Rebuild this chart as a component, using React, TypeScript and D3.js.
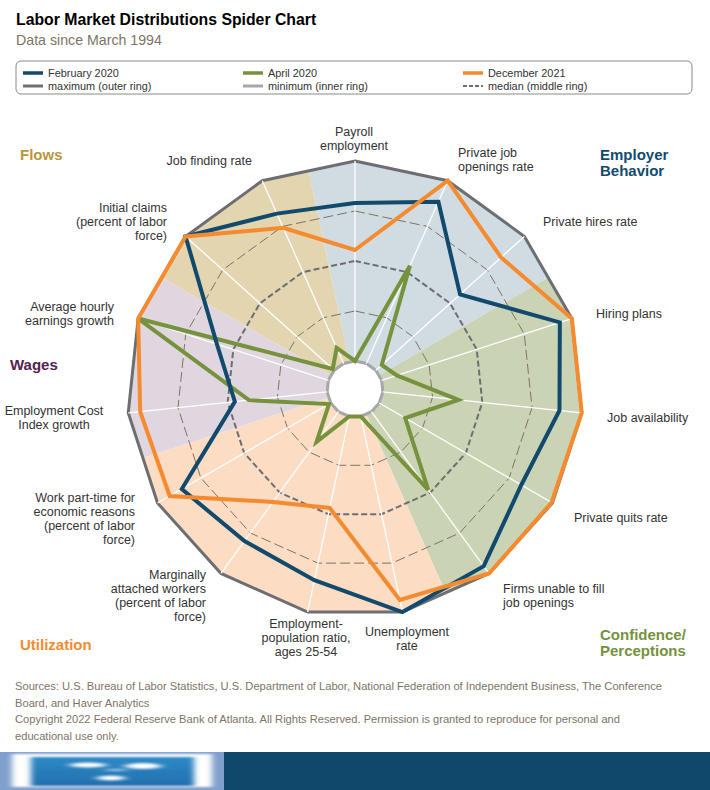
import React from 'react';
import * as d3 from 'd3';

const indicators = [
  ['Payroll', 'employment'],
  ['Private job', 'openings rate'],
  ['Private hires rate'],
  ['Hiring plans'],
  ['Job availability'],
  ['Private quits rate'],
  ['Firms unable to fill', 'job openings'],
  ['Unemployment', 'rate'],
  ['Employment-', 'population ratio,', 'ages 25-54'],
  ['Marginally', 'attached workers', '(percent of labor', 'force)'],
  ['Work part-time for', 'economic reasons', '(percent of labor', 'force)'],
  ['Employment Cost', 'Index growth'],
  ['Average hourly', 'earnings growth'],
  ['Initial claims', '(percent of labor', 'force)'],
  ['Job finding rate'],
];

// percentile position of each indicator, same order as above
const feb2020 = [0.79, 0.885, 0.567, 0.937, 0.888, 0.82, 0.955, 1, 0.837, 0.8, 0.86, 0.464, 0.586, 1, 0.82];
const apr2020 = [0, 0.535, 0.04, 0.08, 0.38, 0.15, 0.483, 0, 0, 0.187, 0.01, 0.393, 1, 0.01, 0.085];
const dec2021 = [0.555, 1, 0.843, 1, 1, 0.995, 1, 0.938, 0.468, 0.558, 0.93, 0.94, 1, 1, 0.742];

const ringLevels = [0.25, 0.5, 0.75];

const sectors = [
  { name: ['Employer', 'Behavior'], first: 0, last: 2, fill: '#d0dbe2', color: '#124a6e', x: 600, y: 160 },
  { name: ['Confidence/', 'Perceptions'], first: 3, last: 6, fill: '#cbd3b5', color: '#76923c', x: 600, y: 640 },
  { name: ['Utilization'], first: 7, last: 10, fill: '#fcdcc3', color: '#f58a2f', x: 20, y: 650 },
  { name: ['Wages'], first: 11, last: 12, fill: '#e0d6e0', color: '#56224f', x: 10, y: 370 },
  { name: ['Flows'], first: 13, last: 14, fill: '#e2d5b0', color: '#b9973c', x: 20, y: 160 },
];

// where each indicator label sits: [x, first baseline, anchor]
const labelPlace: [number, number, string][] = [
  [354, 136, 'middle'],
  [458, 157, 'start'],
  [543, 226, 'start'],
  [596, 318, 'start'],
  [607, 422, 'start'],
  [574, 522, 'start'],
  [503, 593, 'start'],
  [407, 636, 'middle'],
  [306, 628, 'middle'],
  [206, 579, 'end'],
  [135, 502, 'end'],
  [54, 415, 'middle'],
  [114, 311, 'end'],
  [167, 212, 'end'],
  [252, 165, 'end'],
];

const legendRows = [
  [
    { label: 'February 2020', color: '#124a6e', width: 3.5, dash: '' },
    { label: 'April 2020', color: '#76923c', width: 3.5, dash: '' },
    { label: 'December 2021', color: '#f58a2f', width: 3.5, dash: '' },
  ],
  [
    { label: 'maximum (outer ring)', color: '#6d6e71', width: 3, dash: '' },
    { label: 'minimum (inner ring)', color: '#a7a7a9', width: 3, dash: '' },
    { label: 'median (middle ring)', color: '#6d6e71', width: 2, dash: '4,2' },
  ],
];

const footnotes = [
  'Sources: U.S. Bureau of Labor Statistics, U.S. Department of Labor, National Federation of Independent Business, The Conference',
  'Board, and Haver Analytics',
  'Copyright 2022 Federal Reserve Bank of Atlanta. All Rights Reserved. Permission is granted to reproduce for personal and',
  'educational use only.',
];

const width = 710;
const height = 790;
const cx = 355;
const cy = 389;
const step = (2 * Math.PI) / indicators.length;
const font = '"Liberation Sans", Arial, sans-serif';

const r = d3.scaleLinear().domain([0, 1]).range([28, 228]);
const angle = (i: number) => i * step;

const radial = d3
  .lineRadial<number>()
  .angle((_, i) => angle(i))
  .radius((d) => r(d))
  .curve(d3.curveLinearClosed);

const ring = (level: number) => radial(indicators.map(() => level)) as string;

const wedge = d3.arc();

export default function App() {
  return (
    <svg
      width={width}
      height={height}
      style={{ position: 'absolute', left: 0, top: 0, fontFamily: font }}
    >
      <defs>
        <clipPath id="outer-ring">
          <path d={ring(1)} />
        </clipPath>
        <filter id="soft" x="-20%" y="-30%" width="140%" height="160%">
          <feGaussianBlur stdDeviation="3 1" />
        </filter>
        <filter id="softer" x="-30%" y="-100%" width="160%" height="300%">
          <feGaussianBlur stdDeviation="5 1.2" />
        </filter>
        <linearGradient id="button" x1="0" x2="0" y1="0" y2="1">
          <stop offset="0" stopColor="#2d8ac6" />
          <stop offset="1" stopColor="#236fae" />
        </linearGradient>
      </defs>

      <text x={16} y={25} fontSize={15.8} fontWeight="bold" fill="#000">
        Labor Market Distributions Spider Chart
      </text>
      <text x={16} y={45} fontSize={14.2} fill="#7d7466">
        Data since March 1994
      </text>

      <rect x={16} y={61} width={676} height={33} rx={5} fill="#fff" stroke="#8a8a8a" />
      {legendRows.map((row, ri) =>
        row.map((item, ci) => {
          const x = 23 + ci * 220;
          const y = 74 + ri * 13;
          return (
            <g key={item.label}>
              <line x1={x} x2={x + 20} y1={y - 1} y2={y - 1} stroke={item.color} strokeWidth={item.width} strokeDasharray={item.dash} />
              <text x={x + 25} y={y + 3} fontSize={10.9} fill="#333">
                {item.label}
              </text>
            </g>
          );
        }),
      )}

      <g transform={`translate(${cx},${cy})`}>
        <g clipPath="url(#outer-ring)">
          {sectors.map((s) => (
            <path
              key={s.name[0]}
              fill={s.fill}
              d={
                wedge({
                  innerRadius: 0,
                  outerRadius: 300,
                  startAngle: angle(s.first) - step / 2,
                  endAngle: angle(s.last) + step / 2,
                }) as string
              }
            />
          ))}
        </g>
        <path d={ring(0)} fill="#fff" />

        {ringLevels.map((level) => (
          <path
            key={level}
            d={ring(level)}
            fill="none"
            stroke={level === 0.5 ? '#6d6e71' : '#7d7466'}
            strokeWidth={level === 0.5 ? 2 : 1}
            strokeDasharray={level === 0.5 ? '6,3' : '10,4'}
          />
        ))}
        <path d={ring(1)} fill="none" stroke="#6d6e71" strokeWidth={3} />
        <path d={ring(0)} fill="none" stroke="#a7a7a9" strokeWidth={3} />

        {indicators.map((_, i) => (
          <line
            key={i}
            x1={r(0) * Math.sin(angle(i))}
            y1={-r(0) * Math.cos(angle(i))}
            x2={r(1) * Math.sin(angle(i))}
            y2={-r(1) * Math.cos(angle(i))}
            stroke="#fff"
            strokeWidth={1.3}
          />
        ))}

        <path d={radial(apr2020) as string} fill="none" stroke="#76923c" strokeWidth={4} />
        <path d={radial(feb2020) as string} fill="none" stroke="#124a6e" strokeWidth={4} />
        <path d={radial(dec2021) as string} fill="none" stroke="#f58a2f" strokeWidth={4} />
      </g>

      {indicators.map((lines, i) => {
        const [x, y, anchor] = labelPlace[i];
        return (
          <text key={i} x={x} y={y} fontSize={12.5} fill="#333" textAnchor={anchor as any}>
            {lines.map((t, j) => (
              <tspan key={j} x={x} y={y + j * 14}>
                {t}
              </tspan>
            ))}
          </text>
        );
      })}

      {sectors.map((s) => (
        <text key={s.name[0]} fontSize={15} fontWeight="bold" fill={s.color}>
          {s.name.map((t, j) => (
            <tspan key={j} x={s.x} y={s.y + j * 16}>
              {t}
            </tspan>
          ))}
        </text>
      ))}

      {footnotes.map((t, i) => (
        <text key={i} x={15} y={690 + i * 16.5} fontSize={11.15} fill="#7d7466">
          {t}
        </text>
      ))}

      <rect x={224} y={752} width={486} height={38} fill="#10486b" />
      <rect x={0} y={752} width={224} height={38} fill="#7f9fcc" />
      <rect x={12} y={754} width={200} height={33} fill="#fff" filter="url(#soft)" />
      <rect x={31} y={757} width={163} height={29} fill="url(#button)" filter="url(#soft)" />
      <ellipse cx={88} cy={765} rx={18} ry={2.5} fill="#fff" filter="url(#softer)" />
      <ellipse cx={143} cy={766} rx={18} ry={3} fill="#fff" filter="url(#softer)" />
      <ellipse cx={116} cy={770} rx={12} ry={1.2} fill="#a8cde8" filter="url(#softer)" />
      <ellipse cx={111} cy={778} rx={14} ry={2.5} fill="#fff" filter="url(#softer)" />
    </svg>
  );
}
